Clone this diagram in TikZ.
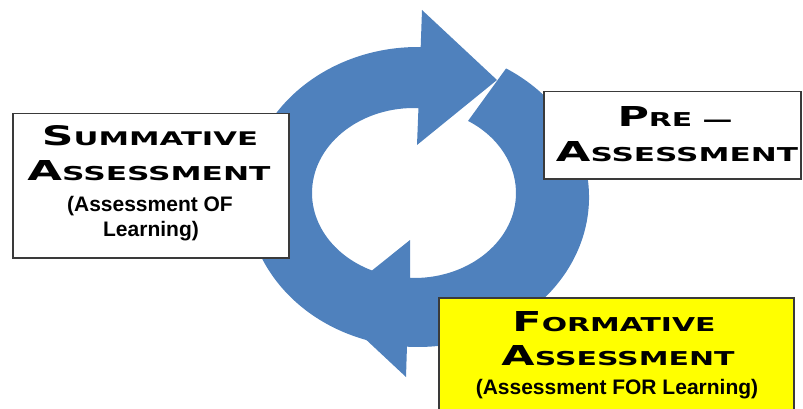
\documentclass[tikz,border=0pt]{standalone}
\usepackage{fontspec}
\usepackage{graphicx}
\setmainfont{Liberation Sans}
\newfontfamily\capsfont{DejaVu Sans}
\usetikzlibrary{calc}

\definecolor{ringblue}{HTML}{4F81BD}
\definecolor{boxedge}{HTML}{3A3A3A}
\definecolor{formyellow}{HTML}{FFFF00}

% heading in caps and small caps: first letter large, rest smaller
\newcommand\capword[2]{{\capsfont\bfseries{\fontsize{28}{28}\selectfont #1}{\fontsize{19.5}{20}\selectfont #2}}}
% heading line fitted to a given width and cap height
\newcommand\headline[3]{\resizebox{#1pt}{20pt}{\capword{#2}{#3}}}

\begin{document}
\begin{tikzpicture}[x=1pt, y=-1pt,
  panel/.style={draw=boxedge, line width=1.5pt, inner sep=0, anchor=north west},
  ttl/.style={inner sep=0, anchor=base},
  sub/.style={inner sep=0, anchor=base, font=\fontsize{21}{24}\selectfont\bfseries}]
\useasboundingbox (0,0) rectangle (803,409);

% ring geometry: outer ellipse centre (418,197), radii 171/150;
% inner ellipse centre (414,193), radii 102/85
\coordinate (oc) at (418,197);
\coordinate (ic) at (414,193);

% upper circular arrow: from lower left, over the top, head pointing right
\fill[ringblue] ($(oc)+(104:171 and 150)$)
  arc[start angle=104, end angle=270.9, x radius=171, y radius=150]
  -- (422,10) -- (497,80) -- (417,145)
  -- ($(ic)+(272.5:102 and 85)$)
  arc[start angle=272.5, end angle=104, x radius=102, y radius=85]
  -- cycle;

% lower circular arrow: from upper right, down the right side, head pointing left
\fill[ringblue] ($(oc)+(-59:171 and 150)$)
  arc[start angle=-59, end angle=93.7, x radius=171, y radius=150]
  -- (406,377) -- (329,305) -- (410,240)
  -- ($(ic)+(92.2:102 and 85)$)
  arc[start angle=92.2, end angle=-58, x radius=102, y radius=85]
  -- cycle;

% boxes (the yellow one runs past the lower edge)
\node[panel, fill=white, minimum width=276pt, minimum height=144pt] (summ) at (12,113) {};
\node[panel, fill=white, minimum width=257pt, minimum height=87pt] (pre) at (543,91) {};
\node[panel, fill=formyellow, minimum width=355pt, minimum height=120pt] (form) at (438,297) {};

% summative text
\node[ttl] (s1) at (150,146) {\headline{216}{S}{UMMATIVE}};
\node[ttl] (s2) at (149,180) {\headline{243}{A}{SSESSMENT}};
\node[sub] (s3) at (150,211) {(Assessment OF};
\node[sub] (s4) at (151,236) {Learning)};

% pre-assessment text
\node[ttl] (p1) at (675,126) {\headline{115}{P}{RE —}};
\node[ttl] (p2) at (677,161) {\headline{242}{A}{SSESSMENT}};

% formative text
\node[ttl] (f1) at (614,331) {\headline{203}{F}{ORMATIVE}};
\node[ttl] (f2) at (618,365) {\headline{233}{A}{SSESSMENT}};
\node[sub] (f3) at (617,394) {(Assessment FOR Learning)};
\end{tikzpicture}
\end{document}
